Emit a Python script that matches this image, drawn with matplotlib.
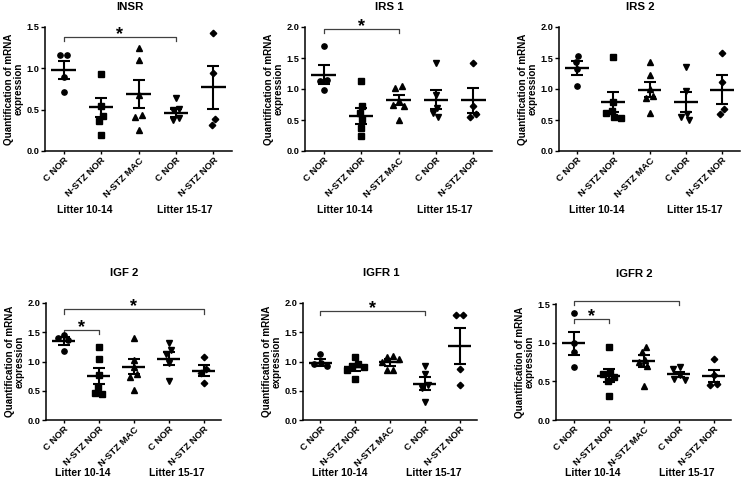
import matplotlib
matplotlib.use("Agg")
import matplotlib.pyplot as plt
import numpy as np
from matplotlib.transforms import ScaledTranslation

plt.rcParams['font.family'] = ['Liberation Sans', 'DejaVu Sans']
plt.rcParams['font.weight'] = 'bold'

groups = ['C NOR', 'N-STZ NOR', 'N-STZ MAC', 'C NOR', 'N-STZ NOR']
litters = ['Litter 10-14', 'Litter 15-17']
markers = ['o', 's', '^', 'v', 'D']

# ---- INSR ----
insr_vals = [[1.16, 1.16, 0.90, 0.71],
             [0.93, 0.54, 0.42, 0.36, 0.19],
             [1.24, 1.10, 0.68, 0.43, 0.41, 0.26],
             [0.64, 0.51, 0.50, 0.40, 0.38],
             [1.43, 0.94, 0.39, 0.32]]
insr_means = [0.98, 0.53, 0.69, 0.46, 0.77]
insr_sems = [0.11, 0.115, 0.165, 0.05, 0.26]
insr_sig = [(0, 3, 1.38)]

# ---- IRS 1 ----
irs1_vals = [[1.70, 1.15, 1.13, 0.99],
             [1.13, 0.72, 0.62, 0.52, 0.37, 0.24],
             [1.05, 1.02, 0.80, 0.75, 0.73, 0.50],
             [1.42, 0.90, 0.70, 0.62, 0.55],
             [1.42, 0.72, 0.60, 0.55]]
irs1_means = [1.23, 0.57, 0.82, 0.83, 0.82]
irs1_sems = [0.155, 0.13, 0.08, 0.15, 0.20]
irs1_sig = [(0, 2, 1.97)]

# ---- IRS 2 ----
irs2_vals = [[1.54, 1.44, 1.33, 1.05],
             [1.52, 0.79, 0.65, 0.62, 0.55, 0.53],
             [1.44, 1.22, 1.00, 0.88, 0.86, 0.62],
             [1.35, 0.97, 0.60, 0.55, 0.50],
             [1.58, 1.12, 0.68, 0.59]]
irs2_means = [1.34, 0.79, 0.99, 0.79, 0.99]
irs2_sems = [0.11, 0.155, 0.12, 0.165, 0.23]
irs2_sig = []

# ---- IGF 2 ----
igf2_vals = [[1.45, 1.40, 1.36, 1.18],
             [1.24, 1.05, 0.77, 0.57, 0.47, 0.44],
             [1.41, 1.03, 0.90, 0.78, 0.74, 0.51],
             [1.31, 1.19, 1.12, 0.97, 0.67],
             [1.07, 0.88, 0.80, 0.63]]
igf2_means = [1.35, 0.75, 0.91, 1.05, 0.84]
igf2_sems = [0.065, 0.14, 0.13, 0.11, 0.095]
igf2_sig = [(0, 1, 1.545), (0, 4, 1.89)]

# ---- IGFR 1 ----
igfr1_vals = [[1.12, 0.97, 0.95, 0.92],
              [1.08, 0.95, 0.93, 0.90, 0.85, 0.70],
              [1.10, 1.08, 1.05, 1.00, 0.86, 0.86],
              [0.93, 0.78, 0.60, 0.55, 0.30],
              [1.80, 1.80, 0.87, 0.59]]
igfr1_means = [0.98, 0.90, 0.99, 0.62, 1.26]
igfr1_sems = [0.055, 0.06, 0.06, 0.11, 0.31]
igfr1_sig = [(0, 3, 1.86)]

# ---- IGFR 2 ----
igfr2_vals = [[1.39, 1.00, 0.88, 0.69],
              [0.95, 0.62, 0.59, 0.55, 0.50, 0.31],
              [0.95, 0.88, 0.78, 0.75, 0.70, 0.44],
              [0.68, 0.66, 0.58, 0.53, 0.52],
              [0.79, 0.58, 0.46, 0.45]]
igfr2_means = [0.99, 0.575, 0.76, 0.59, 0.57]
igfr2_sems = [0.15, 0.09, 0.08, 0.03, 0.08]
igfr2_sig = [(0, 3, 1.54), (0, 1, 1.31)]

W, H = 748, 482
panels = [
    ('INSR', insr_vals, insr_means, insr_sems, insr_sig, 1.5, (45, 27, 232, 151), 0),
    ('IRS 1', irs1_vals, irs1_means, irs1_sems, irs1_sig, 2.0, (305, 27, 492, 151), 0),
    ('IRS 2', irs2_vals, irs2_means, irs2_sems, irs2_sig, 2.0, (559, 27, 740, 151), 0),
    ('IGF 2', igf2_vals, igf2_means, igf2_sems, igf2_sig, 2.0, (46, 303, 221, 420), 1),
    ('IGFR 1', igfr1_vals, igfr1_means, igfr1_sems, igfr1_sig, 2.0, (303, 303, 477, 420), 1),
    ('IGFR 2', igfr2_vals, igfr2_means, igfr2_sems, igfr2_sig, 1.5, (556, 304, 731, 420), 1),
]


def swarm(vals, ypx, xpx, D=6.5):
    vals = np.asarray(vals, float)
    order = np.argsort(-vals)
    placed = []
    xs = np.zeros(len(vals))
    for i in order:
        y = vals[i] * ypx
        for k in range(200):
            cand = 0.5 * ((k + 1) // 2) * (-1 if k % 2 else 1)
            if all((cand - px) ** 2 + (y - py) ** 2 >= D * D for px, py in placed):
                break
        placed.append((cand, y))
        xs[i] = cand
    srt = np.argsort(vals)
    grp = [[srt[0]]]
    for i in srt[1:]:
        if (vals[i] - vals[grp[-1][-1]]) * ypx < D:
            grp[-1].append(i)
        else:
            grp.append([i])
    for g in grp:
        xs[g] -= xs[g].mean()
    return xs / xpx


fig = plt.figure(figsize=(W / 100, H / 100), dpi=100)
for title, vals, means, sems, sig, ymax, (l, t, r, b), row in panels:
    ax = fig.add_axes([l / W, 1 - b / H, (r - l) / W, (b - t) / H])
    ax.set_xlim(-0.5, 4.5)
    ax.set_ylim(0, ymax)
    ypx = (b - t) / ymax
    xpx = (r - l) / 5.0
    for i, v in enumerate(vals):
        off = swarm(v, ypx, xpx)
        ms = 3.3 if markers[i] == 'D' else 3.8
        ax.plot(i + off, v, linestyle='none', marker=markers[i], ms=ms,
                color='black', mec='black', clip_on=False, zorder=3)
    x = np.arange(len(groups))
    ax.hlines(means, x - 0.33, x + 0.33, colors='black', lw=1.7, zorder=4)
    ax.errorbar(x, means, yerr=sems, fmt='none', ecolor='black', elinewidth=1.5,
                capsize=4.0, capthick=1.5, zorder=4)
    for sp in ['top', 'right']:
        ax.spines[sp].set_visible(False)
    for sp in ['left', 'bottom']:
        ax.spines[sp].set_linewidth(1.1)
    ax.set_yticks(np.arange(0, ymax + 0.01, 0.5))
    ax.set_yticklabels(['%.1f' % v for v in np.arange(0, ymax + 0.01, 0.5)])
    ax.tick_params(axis='y', length=3, width=1.0, pad=0.8, labelsize=6.6)
    ax.tick_params(axis='x', length=2.5, width=1.0, pad=1.0, labelsize=6.8)
    ax.set_xticks(x)
    ax.set_xticklabels(groups, rotation=45, ha='right', rotation_mode='anchor')
    ax.set_ylabel('Quantification of mRNA\nexpression', fontsize=7.1, fontweight='bold',
                  linespacing=1.05)
    ax.yaxis.set_label_coords(-21.0 / (r - l), 0.5)
    ty = 14.4 if row == 0 else 21.6
    ax.annotate(title, xy=(0.5, 1), xycoords='axes fraction', xytext=(-6.5, ty),
                textcoords='offset points', ha='center', va='center', fontsize=8.2,
                fontweight='bold')
    ly = -42.5 if row == 0 else -38.0
    for lx, lt in zip([0.55, 3.25], litters):
        ax.annotate(lt, xy=(lx, 0), xycoords=('data', 'axes fraction'), xytext=(0, ly),
                    textcoords='offset points', ha='center', va='center', fontsize=7.5,
                    fontweight='bold')
    for i0, i1, yb in sig:
        dy = 0.035 * ymax
        ax.plot([i0, i0, i1, i1], [yb - dy, yb, yb, yb - dy], color='#404040', lw=0.9,
                clip_on=False)
        ax.annotate('*', xy=((i0 + i1) / 2, yb), xycoords='data', xytext=(0, -1.5),
                    textcoords='offset points', ha='center', va='baseline', fontsize=13,
                    fontweight='bold')

fig.savefig('out.png', dpi=100)
